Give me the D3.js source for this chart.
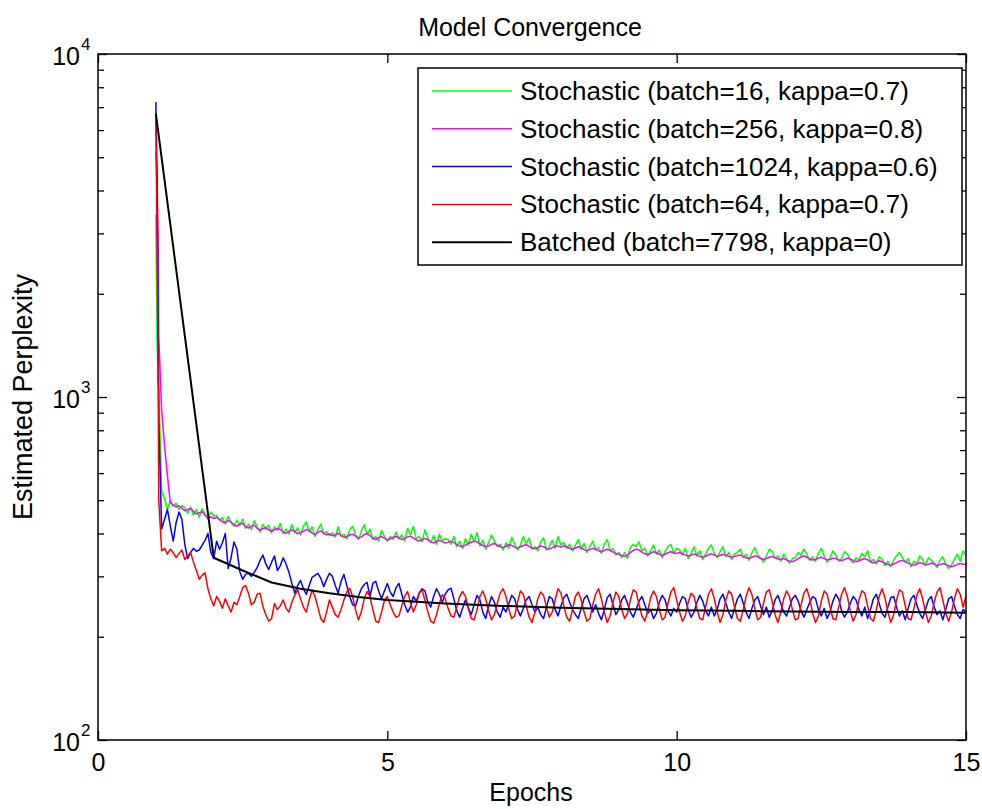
<!DOCTYPE html>
<html>
<head>
<meta charset="utf-8">
<script src="https://cdn.jsdelivr.net/npm/d3@7"></script>
<style>
  body { margin: 0; background: #fff; }
  svg { display: block; }
  text { font-family: "Liberation Sans", Arial, sans-serif; fill: #000; }
</style>
</head>
<body>
<svg id="chart"></svg>
<script>
// x positions of the logged points (epochs)
const epochs = [1, 1.02, 1.04].concat(d3.range(21, 301).map(i => i / 20));

// perplexity values, one row per epoch
const stochastic16 = [3400, 1500, 1100,
  1050, 530, 505, 470, 498, 480, 490, 470, 482, 475, 458, 478, 452, 470, 446, 472, 455, 440, 462, 450,
  452, 436, 445, 426, 448, 430, 420, 438, 422, 441, 414, 426, 410, 436, 418, 404, 425, 412, 423, 402,
  418, 408, 428, 400, 412, 398, 425, 402, 415, 396, 420, 432, 404, 418, 392, 410, 426, 398, 405, 394,
  402, 390, 418, 392, 398, 386, 410, 420, 396, 384, 405, 424, 396, 412, 384, 392, 380, 408, 392, 380,
  392, 384, 404, 386, 396, 380, 414, 396, 420, 386, 392, 378, 410, 388, 376, 394, 372, 398, 380, 386,
  384, 372, 392, 366, 380, 362, 386, 370, 398, 378, 402, 368, 382, 360, 376, 396, 380, 366, 372, 358,
  376, 362, 390, 372, 358, 370, 392, 374, 388, 360, 366, 356, 378, 388, 358, 366, 382, 362, 392, 370,
  376, 362, 372, 356, 370, 384, 360, 374, 352, 366, 380, 358, 364, 350, 372, 384, 356, 362, 346, 352,
  340, 352, 338, 364, 372, 366, 378, 356, 362, 344, 356, 370, 348, 358, 340, 354, 366, 372, 350, 362,
  358, 346, 362, 338, 350, 366, 344, 356, 336, 348, 362, 370, 350, 340, 354, 366, 342, 352, 336, 348,
  352, 360, 340, 348, 334, 352, 364, 346, 340, 330, 344, 360, 354, 338, 344, 332, 348, 336, 328, 338,
  340, 352, 346, 360, 348, 334, 342, 332, 350, 362, 344, 330, 340, 356, 346, 332, 338, 354, 348, 336,
  328, 340, 334, 350, 342, 356, 330, 336, 326, 342, 336, 322, 332, 320, 334, 344, 352, 340, 330, 338,
  320, 332, 326, 344, 336, 322, 340, 334, 328, 318, 334, 342, 326, 316, 324, 336, 348, 332, 356, 346];

const stochastic256 = [5200, 4300, 2900,
  1500, 920, 720, 590, 492, 484, 478, 482, 474, 466, 470, 473, 464, 456, 460, 463, 452, 444, 447, 442,
  446, 440, 432, 430, 436, 432, 424, 420, 426, 428, 419, 415, 420, 423, 414, 409, 413, 416, 410, 406,
  410, 414, 411, 404, 400, 406, 410, 406, 399, 402, 406, 411, 408, 401, 397, 403, 407, 401, 396, 399,
  394, 396, 400, 395, 390, 392, 396, 398, 393, 388, 391, 397, 400, 394, 388, 384, 389, 392, 387, 383,
  386, 390, 392, 388, 384, 387, 391, 393, 388, 383, 380, 384, 387, 383, 378, 375, 379, 382, 378, 375,
  377, 380, 376, 371, 368, 366, 370, 374, 377, 380, 378, 373, 369, 366, 368, 372, 374, 370, 366, 364,
  367, 371, 369, 365, 362, 366, 369, 371, 367, 363, 361, 364, 368, 366, 362, 360, 364, 367, 368, 365,
  368, 366, 362, 360, 363, 366, 363, 359, 356, 359, 362, 360, 356, 354, 357, 360, 357, 353, 350, 348,
  345, 343, 346, 352, 357, 360, 358, 353, 349, 347, 350, 354, 352, 348, 345, 348, 352, 354, 351, 350,
  352, 349, 346, 344, 346, 349, 346, 343, 341, 343, 347, 349, 346, 343, 345, 348, 346, 343, 341, 343,
  345, 346, 343, 340, 338, 341, 344, 342, 338, 336, 338, 341, 343, 340, 337, 336, 338, 335, 332, 331,
  334, 338, 342, 344, 341, 337, 335, 336, 339, 341, 338, 335, 336, 339, 338, 335, 333, 336, 339, 337,
  334, 331, 333, 336, 338, 335, 331, 328, 330, 333, 331, 327, 325, 323, 326, 329, 332, 334, 331, 328,
  325, 323, 326, 329, 327, 324, 325, 328, 326, 323, 324, 327, 325, 322, 320, 322, 325, 327, 325, 326];

const stochastic1024 = [7250, 4400, 1550,
  850, 412, 440, 470, 420, 380, 430, 462, 440, 372, 338, 352, 362, 355, 358, 370, 382, 400, 352, 338,
  380, 360, 376, 400, 316, 340, 378, 360, 310, 294, 304, 306, 300, 308, 318, 334, 346, 326, 314, 330,
  344, 312, 322, 340, 326, 308, 286, 268, 282, 292, 276, 266, 282, 298, 302, 306, 296, 280, 294, 306,
  300, 282, 268, 290, 304, 282, 262, 248, 246, 262, 276, 284, 288, 262, 286, 290, 272, 258, 272, 286,
  270, 262, 278, 286, 266, 248, 236, 244, 262, 254, 268, 276, 272, 252, 244, 262, 276, 266, 252, 266,
  274, 277, 258, 238, 228, 242, 256, 242, 232, 248, 264, 256, 236, 226, 246, 262, 252, 236, 228, 244,
  236, 250, 264, 258, 240, 230, 242, 256, 262, 248, 236, 244, 232, 226, 244, 262, 258, 240, 230, 246,
  260, 266, 252, 240, 232, 226, 242, 258, 264, 250, 236, 248, 234, 224, 240, 260, 266, 248, 232, 240,
  256, 264, 250, 236, 228, 240, 254, 262, 248, 234, 240, 226, 234, 252, 264, 256, 238, 230, 242, 236,
  250, 262, 258, 240, 228, 236, 252, 264, 254, 238, 230, 244, 230, 240, 258, 266, 250, 236, 226, 242,
  258, 266, 250, 236, 226, 242, 256, 262, 246, 232, 244, 228, 238, 256, 264, 250, 236, 230, 244, 258,
  264, 254, 238, 228, 240, 252, 262, 258, 240, 230, 242, 226, 236, 254, 266, 258, 238, 228, 236, 250,
  262, 256, 240, 230, 244, 226, 240, 258, 266, 250, 234, 228, 244, 260, 262, 244, 230, 238, 224, 242,
  258, 264, 248, 234, 226, 240, 256, 262, 244, 232, 238, 224, 240, 258, 262, 246, 232, 226, 240, 236];

const stochastic64 = [6400, 2900, 1100,
  500, 356, 362, 348, 360, 352, 340, 350, 358, 336, 344, 352, 330, 312, 294, 302, 307, 276, 258, 246,
  262, 254, 242, 258, 246, 236, 252, 248, 262, 278, 282, 268, 248, 252, 266, 268, 245, 232, 222, 226,
  250, 240, 246, 256, 242, 236, 252, 264, 274, 258, 244, 236, 256, 274, 262, 244, 226, 220, 236, 256,
  244, 232, 228, 240, 256, 270, 277, 262, 240, 224, 236, 258, 271, 262, 240, 222, 220, 236, 255, 262,
  248, 236, 228, 230, 246, 262, 271, 252, 236, 248, 268, 274, 256, 236, 222, 219, 232, 250, 265, 258,
  242, 230, 228, 244, 262, 271, 262, 242, 226, 224, 240, 262, 272, 258, 238, 224, 232, 250, 268, 276,
  262, 240, 226, 230, 252, 272, 266, 246, 228, 220, 236, 258, 270, 264, 244, 228, 236, 256, 276, 268,
  246, 228, 222, 240, 262, 270, 256, 236, 222, 226, 248, 266, 276, 258, 236, 220, 230, 252, 270, 262,
  240, 226, 234, 256, 274, 270, 248, 230, 222, 238, 260, 272, 262, 240, 224, 228, 250, 270, 278, 256,
  236, 222, 230, 252, 268, 262, 242, 226, 224, 244, 266, 276, 258, 236, 220, 232, 256, 272, 266, 244,
  226, 222, 240, 262, 278, 266, 242, 224, 228, 250, 270, 274, 254, 232, 220, 236, 258, 272, 262, 240,
  224, 226, 248, 268, 276, 258, 234, 220, 230, 254, 272, 266, 244, 226, 224, 244, 266, 278, 262, 238,
  222, 232, 256, 272, 268, 246, 226, 222, 240, 262, 276, 260, 236, 220, 232, 256, 274, 270, 246, 226,
  224, 242, 264, 276, 258, 236, 220, 230, 252, 270, 278, 256, 234, 222, 236, 258, 276, 266, 244, 262];

// batched run is only logged at a few epochs
const batchEpochs = [1, 2, 2.5, 3, 3.5, 4, 4.5, 5, 6, 7, 8, 9, 10, 11, 12, 13, 14, 15];
const batchPerplexity = [6700, 340, 312, 288, 276, 268, 261, 256, 250, 246, 243, 241, 239, 238, 237, 236, 236, 235];

const seriesNames = [
  'Stochastic (batch=16, kappa=0.7)',
  'Stochastic (batch=256, kappa=0.8)',
  'Stochastic (batch=1024, kappa=0.6)',
  'Stochastic (batch=64, kappa=0.7)',
  'Batched (batch=7798, kappa=0)'
];
const seriesColors = ['#00ff00', '#ff00ff', '#0000ff', '#ff0000', '#000000'];

const xTicks = [0, 5, 10, 15];
const yMajor = [100, 1000, 10000];
const yMinor = [200, 300, 400, 500, 600, 700, 800, 900, 2000, 3000, 4000, 5000, 6000, 7000, 8000, 9000];

const w = 982;
const h = 809;
const pLeft = 98, pRight = 966, pTop = 54, pBottom = 740;

const svg = d3.select('#chart')
  .attr('width', w)
  .attr('height', h);

svg.append('rect')
  .attr('width', w)
  .attr('height', h)
  .attr('fill', '#fff');

const x = d3.scaleLinear().domain([0, 15]).range([pLeft, pRight]);
const y = d3.scaleLog().domain([100, 10000]).range([pBottom, pTop]);

svg.append('clipPath')
  .attr('id', 'plot-clip')
  .append('rect')
  .attr('x', pLeft)
  .attr('y', pTop)
  .attr('width', pRight - pLeft)
  .attr('height', pBottom - pTop);

const plot = svg.append('g').attr('clip-path', 'url(#plot-clip)');

const stochLine = d3.line()
  .x((d, i) => x(epochs[i]))
  .y(d => y(d));

[stochastic16, stochastic256, stochastic1024, stochastic64].forEach((values, k) => {
  plot.append('path')
    .datum(values)
    .attr('fill', 'none')
    .attr('stroke', seriesColors[k])
    .attr('stroke-width', 1.5)
    .attr('stroke-linejoin', 'round')
    .attr('d', stochLine);
});

const batchLine = d3.line()
  .x((d, i) => x(batchEpochs[i]))
  .y(d => y(d));

plot.append('path')
  .datum(batchPerplexity)
  .attr('fill', 'none')
  .attr('stroke', seriesColors[4])
  .attr('stroke-width', 2)
  .attr('d', batchLine);

// axes: ticks point into the plot on all four sides
const tickStyle = g => {
  g.select('.domain').remove();
  g.selectAll('.tick line').attr('stroke', '#000').attr('stroke-width', 1.3);
};

svg.append('g')
  .attr('transform', `translate(0,${pBottom})`)
  .call(d3.axisBottom(x).tickValues(xTicks).tickSize(-9).tickPadding(13).tickFormat(d3.format('d')))
  .call(tickStyle)
  .selectAll('text')
  .style('font-size', '25px')
  .style('font-family', '"Liberation Sans", Arial, sans-serif');

svg.append('g')
  .attr('transform', `translate(0,${pTop})`)
  .call(d3.axisTop(x).tickValues(xTicks).tickSize(-9).tickFormat(''))
  .call(tickStyle);

[[d3.axisLeft, pLeft], [d3.axisRight, pRight]].forEach(([axisFn, pos]) => {
  svg.append('g')
    .attr('transform', `translate(${pos},0)`)
    .call(axisFn(y).tickValues(yMajor).tickSize(-9).tickFormat(''))
    .call(tickStyle);
  svg.append('g')
    .attr('transform', `translate(${pos},0)`)
    .call(axisFn(y).tickValues(yMinor).tickSize(-6).tickFormat(''))
    .call(tickStyle);
});

// box
svg.append('rect')
  .attr('x', pLeft)
  .attr('y', pTop)
  .attr('width', pRight - pLeft)
  .attr('height', pBottom - pTop)
  .attr('fill', 'none')
  .attr('stroke', '#000')
  .attr('stroke-width', 1.5);

// 10^n labels
const yLabels = svg.append('g');
yMajor.forEach(v => {
  yLabels.append('text')
    .attr('x', 80)
    .attr('y', y(v) + 11)
    .attr('text-anchor', 'end')
    .style('font-size', '25px')
    .text('10');
  yLabels.append('text')
    .attr('x', 81)
    .attr('y', y(v) - 4)
    .style('font-size', '17px')
    .text(Math.round(Math.log10(v)));
});

svg.append('text')
  .attr('x', 530)
  .attr('y', 27)
  .attr('text-anchor', 'middle')
  .attr('dominant-baseline', 'central')
  .style('font-size', '25px')
  .text('Model Convergence');

svg.append('text')
  .attr('x', 531)
  .attr('y', 801)
  .attr('text-anchor', 'middle')
  .style('font-size', '25px')
  .text('Epochs');

svg.append('text')
  .attr('transform', 'translate(23,397) rotate(-90)')
  .attr('text-anchor', 'middle')
  .attr('dominant-baseline', 'central')
  .style('font-size', '27px')
  .text('Estimated Perplexity');

// legend
const legend = svg.append('g');
legend.append('rect')
  .attr('x', 418)
  .attr('y', 68)
  .attr('width', 544)
  .attr('height', 197)
  .attr('fill', '#fff')
  .attr('stroke', '#000')
  .attr('stroke-width', 1.5);

seriesNames.forEach((name, i) => {
  const ry = 91 + i * 37.8;
  legend.append('line')
    .attr('x1', 432)
    .attr('x2', 512)
    .attr('y1', ry)
    .attr('y2', ry)
    .attr('stroke', seriesColors[i])
    .attr('stroke-width', i === 4 ? 2 : 1.5);
  legend.append('text')
    .attr('x', 520)
    .attr('y', ry)
    .attr('dominant-baseline', 'central')
    .style('font-size', '26px')
    .text(name);
});
</script>
</body>
</html>
